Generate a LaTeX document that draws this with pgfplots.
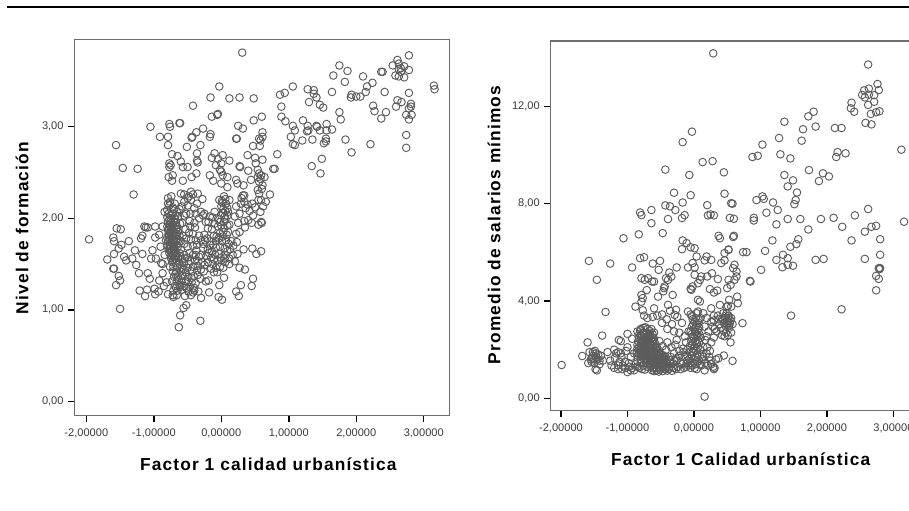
\documentclass[border=0pt]{standalone}
\usepackage{pgfplots}
\pgfplotsset{compat=1.18}
\usepackage{fontspec}
\setmainfont{Liberation Sans}
\newfontfamily\lblfont[LetterSpace=6.5]{Liberation Sans}
\definecolor{ptc}{HTML}{5C5C5C}
\definecolor{axc}{HTML}{6E6E6E}
\definecolor{tlc}{HTML}{3A3A3A}
\pgfplotsset{
  spss/.style={
    scale only axis,
    tick align=outside,
    xtick pos=bottom, ytick pos=left,
    major tick length=5.2pt,
    tick style={black,line width=1.1pt},
    axis line style={draw=axc,line width=1.1pt},
    xtick={-2,-1,0,1,2,3},
    xticklabels={{-2,00000},{-1,00000},{0,00000},{1,00000},{2,00000},{3,00000}},
    tick label style={font=\fontsize{8.3}{9}\selectfont,text=tlc},
    xticklabel style={yshift=-1.5pt},
    yticklabel style={xshift=0.5pt},
    xlabel style={font=\lblfont\bfseries\fontsize{13}{15}\selectfont,anchor=center},
    ylabel style={font=\lblfont\bfseries\fontsize{13}{15}\selectfont,anchor=center,rotate=0},
    clip=false,
  },
  pts/.style={only marks,mark=o,mark size=2.85pt,mark options={draw=ptc,line width=0.7pt}},
}
\begin{document}
\begin{tikzpicture}[x=1pt,y=1pt]
\path[use as bounding box] (0,0) rectangle (681.75,382.5);
\fill[white] (0,0) rectangle (681.75,382.5);
\draw[black,line width=1.6pt] (5.3,377) -- (681.75,377);
\begin{axis}[spss,at={(55.9pt,71pt)},anchor=south west,width=281.4pt,height=281.7pt,
  xmin=-2.175,xmax=3.385,ymin=-0.153,ymax=3.951,
  ytick={0,1,2,3},yticklabels={{0,00},{1,00},{2,00},{3,00}},
  xlabel={Factor 1 calidad urbanística},
  xlabel style={at={(axis description cs:0.5165,-0.129)}},
  ylabel={Nivel de formación},
  ylabel style={at={(axis description cs:-0.14,0.4987)}},
]
\addplot[pts] coordinates {
(0.31,3.81)(2.78,3.78)(2.61,3.73)(2.54,3.67)(2.63,3.69)(2.66,3.64)(2.71,3.66)(2.78,3.62)(2.63,3.63)(2.66,3.60)(2.58,3.56)(2.63,3.55)(2.71,3.54)
(1.75,3.67)(1.87,3.61)(1.66,3.56)(1.83,3.49)(2.10,3.55)(2.37,3.60)(2.39,3.60)(2.24,3.48)(2.16,3.44)(2.14,3.38)(2.42,3.38)(1.93,3.35)(1.92,3.32)(2.00,3.33)(2.06,3.33)(1.64,3.38)(2.78,3.37)(3.15,3.45)(3.16,3.41)
(1.06,3.44)(0.94,3.37)(0.87,3.35)(1.28,3.41)(1.37,3.40)(1.37,3.36)(1.41,3.32)(1.30,3.27)(1.46,3.24)(1.51,3.21)(0.89,3.22)(0.89,3.11)(0.95,3.06)(1.75,3.16)(1.77,3.08)(2.25,3.23)(2.27,3.17)(2.37,3.09)(2.44,3.16)
(2.59,3.22)(2.61,3.29)(2.67,3.27)(2.81,3.25)(2.81,3.22)(2.78,3.20)(2.74,3.13)(2.82,3.13)(2.78,3.08)(2.74,2.91)(2.74,2.77)(1.84,2.86)(1.93,2.72)(2.21,2.81)
(1.21,3.07)(1.28,3.01)(1.27,2.95)(1.20,2.85)(1.35,2.86)(1.41,3.01)(1.46,2.96)(1.56,3.03)(1.56,2.96)(1.64,2.97)(1.55,2.87)(1.52,2.82)(1.55,2.84)(1.29,2.96)(1.42,3.00)
(1.06,3.01)(1.09,2.96)(1.03,2.89)(1.06,2.81)(1.09,2.80)(1.34,2.57)(1.49,2.65)(1.47,2.49)(0.83,2.70)(0.77,2.54)(0.79,2.54)
(-0.03,3.44)(-0.16,3.32)(0.12,3.31)(0.27,3.32)(0.48,3.31)(-0.42,3.23)(-0.05,3.14)(-0.06,3.13)(-0.14,3.11)(0.60,3.11)(0.48,3.07)(0.25,3.01)(0.32,2.98)(-1.05,3.00)(-0.77,3.03)(-0.76,3.00)(-0.61,3.04)(-0.62,3.04)
(-0.91,2.89)(-0.79,2.89)(-0.79,2.80)(-0.44,2.88)(-0.43,2.89)(-0.37,2.94)(-0.27,2.98)(-0.16,2.92)(-0.17,2.89)(0.22,2.87)(0.23,2.87)(0.61,2.94)(0.61,2.89)(0.56,2.87)(0.58,2.85)(0.47,2.79)(0.57,2.79)
(-1.56,2.80)(-1.46,2.55)(-1.24,2.54)(-1.30,2.26)(-0.51,2.78)(-0.31,2.80)(-0.36,2.71)(-0.10,2.71)(-0.73,2.70)(-0.65,2.68)(-0.60,2.62)(-0.35,2.61)(-0.36,2.63)(-0.50,2.56)(-0.57,2.56)(-0.77,2.60)(-0.77,2.56)(-0.75,2.58)(-0.37,2.49)(-0.72,2.47)(-0.78,2.45)(-0.73,2.41)(-0.57,2.41)(-0.44,2.45)(-0.17,2.47)(-0.12,2.41)
(-0.14,2.66)(0.02,2.69)(-0.05,2.65)(-0.08,2.58)(0,2.60)(0.12,2.63)(0,2.51)(0.02,2.47)(-0.02,2.53)(0.09,2.45)(0,2.38)(0.09,2.34)(0.22,2.42)(0.24,2.38)(0.27,2.57)(0.28,2.56)(0.39,2.69)(0.50,2.66)(0.61,2.64)(0.51,2.60)(0.40,2.52)(0.44,2.42)
(0.54,2.53)(0.56,2.49)(0.54,2.45)(0.64,2.45)(0.59,2.47)(0.56,2.40)(0.61,2.36)(0.58,2.43)(0.54,2.31)(0.56,2.27)(0.60,2.32)(0.72,2.26)(0.66,2.18)(0.59,2.20)(0.33,2.36)(0.34,2.25)(0.29,2.16)(0.36,2.11)(0.27,2.05)(0.34,1.97)(0.47,2.03)(0.58,2.07)(0.45,1.95)(0.60,1.95)(0.55,1.93)(0.59,1.96)(0.39,2.15)(0.46,2.16)(0.32,2.25)(0.34,2.18)(0.30,2.22)
(-0.03,2.20)(0.04,2.24)(0.12,2.20)(0,2.13)(0.09,2.11)(0.02,2.06)(0.09,2.03)(0,2.03)(-0.05,1.99)(0.04,1.96)(0,1.92)(0.09,1.92)(-0.05,1.91)(0.06,1.99)(0.07,2.16)(0.02,2.17)(0.06,2.08)(0.04,1.89)(0.12,1.93)(0.10,1.85)(0.03,1.85)(-0.02,1.84)(-0.07,1.80)(0.07,1.76)(0.01,1.75)(0.11,1.72)
(-0.60,2.27)(-0.45,2.29)(-0.35,2.27)(-0.28,2.21)(-0.45,2.20)(-0.50,2.22)(-0.74,2.24)(-0.79,2.16)(-0.69,2.16)(-0.84,2.07)(-0.55,2.26)(-0.42,2.26)(-0.58,2.13)(-0.50,2.14)(-0.62,2.10)(-0.46,2.05)(-0.38,2.05)(-0.30,2.07)(-0.27,2.03)(-0.17,2.02)(-0.55,2.03)(-0.47,1.97)(-0.40,1.95)(-0.39,1.90)(-0.19,1.96)(-0.20,1.89)(-0.38,1.76)(-0.30,1.76)(-0.45,1.77)(-0.42,1.83)(-0.53,1.88)(-0.58,1.95)(-0.25,2.05)
(-0.79,2.22)(-0.76,2.18)(-0.72,2.12)(-0.80,2.09)(-0.78,2.05)(-0.72,2.05)(-0.66,2.07)(-0.80,2.01)(-0.75,2.00)(-0.69,1.99)(-0.64,2.02)(-0.79,1.97)(-0.74,1.95)(-0.67,1.95)(-0.61,1.94)(-0.80,1.91)(-0.76,1.91)(-0.71,1.90)(-0.65,1.90)(-0.79,1.87)(-0.75,1.86)(-0.70,1.85)(-0.64,1.85)(-0.78,1.83)(-0.74,1.82)(-0.69,1.81)(-0.62,1.81)(-0.80,1.79)(-0.76,1.78)(-0.71,1.77)(-0.66,1.77)(-0.79,1.74)(-0.74,1.73)(-0.69,1.73)(-0.63,1.73)(-0.80,1.70)(-0.75,1.69)(-0.70,1.69)(-0.65,1.68)(-0.78,1.66)(-0.73,1.65)(-0.68,1.64)(-0.60,1.66)(-0.77,1.62)(-0.72,1.61)(-0.67,1.60)(-0.55,1.60)(-0.75,1.57)(-0.70,1.56)(-0.64,1.57)(-0.58,1.55)(-0.50,1.57)(-0.73,1.52)(-0.68,1.51)(-0.62,1.50)(-0.55,1.51)(-0.46,1.53)(-0.76,1.47)(-0.71,1.47)(-0.65,1.46)(-0.58,1.46)(-0.50,1.46)
(-0.72,1.42)(-0.67,1.41)(-0.60,1.42)(-0.53,1.41)(-0.44,1.42)(-0.36,1.43)(-0.70,1.36)(-0.64,1.36)(-0.57,1.37)(-0.49,1.36)(-0.41,1.37)(-0.35,1.38)(-0.73,1.31)(-0.66,1.31)(-0.59,1.31)(-0.52,1.32)(-0.44,1.30)(-0.69,1.26)(-0.62,1.27)(-0.55,1.26)(-0.47,1.25)(-0.71,1.21)(-0.65,1.21)(-0.58,1.22)(-0.49,1.20)(-0.40,1.21)(-0.72,1.16)(-0.66,1.16)(-0.54,1.15)(-0.45,1.16)(-0.42,1.19)
(-0.52,1.05)(-0.56,1.02)(-0.61,0.94)(-0.63,0.81)(-0.31,0.88)(-0.18,1.19)(-0.30,1.13)(-0.34,1.20)(-0.23,1.31)(-0.19,1.32)(-0.03,1.27)(0.04,1.35)(-0.04,1.14)(0.01,1.11)(0.22,1.20)(0.26,1.15)(0.29,1.27)(0.45,1.26)(0.47,1.34)(0.27,1.46)(0.35,1.44)(0.24,1.61)(0.33,1.66)(0.46,1.67)(0.52,1.61)(0.59,1.64)(0.27,1.85)(0.22,1.83)(0.23,1.74)
(-0.25,1.82)(-0.21,1.78)(-0.16,1.75)(-0.12,1.71)(-0.27,1.67)(-0.20,1.66)(-0.14,1.64)(-0.08,1.68)(-0.02,1.69)(0.05,1.67)(0.13,1.66)(-0.30,1.60)(-0.22,1.59)(-0.15,1.57)(-0.09,1.60)(-0.03,1.61)(0.05,1.60)(0.12,1.56)(0.17,1.60)(-0.34,1.53)(-0.28,1.52)(-0.20,1.52)(-0.13,1.50)(-0.06,1.54)(0,1.54)(0.06,1.52)(-0.15,1.45)(-0.08,1.46)(-0.02,1.47)(0.03,1.46)(-0.11,1.41)(-0.06,1.41)(-0.42,1.60)(-0.37,1.65)(-0.42,1.70)(-0.47,1.62)
(-1.55,1.89)(-1.49,1.88)(-1.60,1.79)(-1.59,1.75)(-1.37,1.75)(-1.52,1.67)(-1.48,1.71)(-1.59,1.61)(-1.69,1.55)(-1.44,1.58)(-1.41,1.54)(-1.28,1.65)(-1.17,1.61)(-1.32,1.56)(-1.26,1.49)(-1.60,1.45)(-1.59,1.45)(-1.22,1.40)(-1.52,1.37)(-1.50,1.32)(-1.56,1.27)(-1.50,1.01)(-1.96,1.77)
(-1.14,1.91)(-1.09,1.90)(-0.98,1.91)(-0.87,1.91)(-1.12,1.90)(-1.19,1.78)(-1.17,1.81)(-0.98,1.79)(-0.92,1.82)(-1.02,1.65)(-1.04,1.56)(-0.97,1.56)(-0.90,1.69)(-0.89,1.51)(-0.87,1.50)(-0.87,1.40)(-1.09,1.40)(-1.06,1.34)(-0.92,1.32)(-0.85,1.26)(-1.21,1.21)(-1.13,1.15)(-1.10,1.22)(-0.99,1.23)(-0.98,1.17)(-0.93,1.20)(-0.79,1.17)(-0.71,1.14)(-0.84,1.60)(-0.82,1.76)(-0.81,1.30)
(-0.77,2.14)(-0.70,2.10)(-0.75,2.03)(-0.68,2.03)(-0.77,1.98)(-0.71,1.97)(-0.77,1.93)(-0.72,1.93)(-0.67,1.92)(-0.78,1.89)(-0.73,1.88)(-0.67,1.88)(-0.76,1.84)(-0.71,1.83)(-0.66,1.83)(-0.78,1.81)(-0.72,1.80)(-0.66,1.80)(-0.77,1.76)(-0.72,1.75)(-0.67,1.75)(-0.76,1.71)(-0.71,1.71)(-0.66,1.71)(-0.76,1.67)(-0.71,1.67)(-0.75,1.64)(-0.70,1.63)(-0.74,1.59)(-0.69,1.59)(-0.62,1.62)(-0.72,1.54)(-0.66,1.54)(-0.61,1.59)(-0.60,1.75)(-0.57,1.81)(-0.55,1.72)(-0.52,1.78)(-0.50,1.69)(-0.48,1.84)
(-0.56,1.44)(-0.54,1.56)(-0.48,1.50)(-0.42,1.47)(-0.39,1.54)(-0.38,1.60)(-0.33,1.58)(-0.35,1.48)(-0.30,1.44)(-0.31,1.34)(-0.26,1.42)(-0.25,1.49)(-0.52,1.24)(-0.50,1.30)(-0.44,1.35)(-0.38,1.29)(-0.40,1.24)(-0.63,1.33)(-0.68,1.39)(-0.61,1.25)(-0.67,1.24)(-0.36,1.71)(-0.33,1.81)(-0.27,1.72)(-0.24,1.76)(-0.11,1.81)(-0.14,1.88)(-0.10,1.94)(-0.16,1.71)(-0.04,1.78)(0.02,1.80)(0.08,1.82)(0.15,1.75)(0.18,1.70)(0.09,1.64)(0.20,1.53)(0.12,1.50)(0.05,1.56)(-0.01,1.57)(-0.11,1.55)(-0.18,1.62)(-0.08,1.75)(-0.02,1.96)(0.05,2.02)(0.03,2.10)(0.10,2.07)(0.01,2.19)(0.06,2.21)(0.20,2.02)(0.22,2.13)(0.42,2.08)(0.40,1.98)(0.50,2.12)(0.55,2.20)(0.62,2.13)(0.25,1.95)(0.35,1.90)(-0.46,1.91)(-0.52,2.05)(-0.48,2.24)(-0.55,2.18)(-0.36,2.16)(-0.40,2.11)(-0.33,2.00)(-0.23,1.96)(-0.13,2.01)(-0.10,2.07)
};
\end{axis}
\begin{axis}[spss,at={(413pt,74.8pt)},anchor=south west,width=277pt,height=277pt,
  xmin=-2.155,xmax=3.4,ymin=-0.49,ymax=14.69,
  ytick={0,4,8,12},yticklabels={{0,00},{4,00},{8,00},{12,00}},
  xlabel={Factor 1 Calidad urbanística},
  xlabel style={at={(axis description cs:0.5143,-0.1327)}},
  ylabel={Promedio de salarios mínimos},
  ylabel style={at={(axis description cs:-0.1535,0.5018)}},
  axis line style={draw=axc,line width=1.1pt},
]
\addplot[pts] coordinates {
(0.29,14.18)(2.62,13.72)(2.76,12.92)(2.63,12.73)(2.56,12.66)(2.78,12.67)(2.53,12.47)(2.57,12.37)(2.63,12.48)(2.71,12.46)(2.71,12.19)(2.62,12.06)(2.37,12.15)(2.36,11.92)(2.41,11.78)(2.66,11.69)(2.74,11.76)(2.79,11.80)(2.58,11.32)(2.67,11.26)
(1.80,11.78)(1.72,11.59)(1.64,11.06)(1.83,11.17)(1.36,11.37)(2.12,11.11)(2.22,11.11)(1.28,10.70)(1.62,10.59)(1.03,10.43)(0.88,9.92)(0.96,9.97)(1.30,10.03)(1.45,9.86)(2.16,10.12)(2.14,9.92)(2.28,10.07)(3.12,10.22)
(-0.03,10.96)(-0.17,10.53)(0.13,9.71)(0.28,9.75)(-0.43,9.40)(-0.07,9.18)(0.45,9.29)(1.73,9.38)(1.94,9.25)(2.03,9.12)(1.88,8.93)(1.36,9.18)(1.49,8.96)(1.41,8.71)(1.55,8.46)(1.53,8.15)(1.51,7.98)
(-0.30,8.45)(-0.05,8.35)(0.46,8.41)(-0.17,8.05)(-0.43,7.93)(-0.36,7.89)(-0.28,7.74)(-0.64,7.74)(-0.81,7.64)(-0.79,7.53)(-0.64,7.20)(-0.39,7.37)(-0.18,7.41)(-0.14,7.53)(0.20,7.94)(0.21,7.52)(0.25,7.56)(0.30,7.52)(0.56,8.02)(0.58,8.00)(0.54,7.42)(0.60,7.38)
(0.94,8.15)(1.03,8.30)(1.05,8.20)(1.19,8.05)(1.26,7.74)(1.09,7.63)(0.90,7.42)(0.90,7.31)(1.24,7.15)(1.41,7.37)(1.60,7.37)(1.91,7.37)(2.10,7.42)(2.23,7.05)(2.42,7.52)(2.62,7.78)(2.57,6.85)(2.67,7.05)(2.74,7.09)(3.16,7.26)(2.80,6.54)(2.37,6.49)(1.72,6.94)(1.57,6.54)(1.54,6.34)(1.45,6.23)(1.18,6.49)(1.07,6.06)
(-1.06,6.58)(-0.83,6.74)(-0.47,6.79)(0.37,6.68)(0.39,6.58)(0.60,6.68)(0.59,6.63)(-0.17,6.49)(-0.11,6.38)(-0.05,6.21)(0.01,6.17)(-0.18,6.13)(0.52,6.12)(0.46,5.97)(0.74,6.01)(0.79,6.01)
(2.80,5.90)(2.57,5.73)(2.78,5.35)(2.80,5.35)(2.79,5.31)(2.74,5.03)(2.78,4.91)(2.74,4.44)(2.22,3.66)(1.46,3.40)(1.01,5.28)(0.85,4.80)(1.24,5.69)(1.34,5.90)(1.41,5.76)(1.49,5.45)(1.41,5.49)(1.33,5.39)(1.83,5.69)(1.95,5.73)
(-1.58,5.65)(-1.26,5.54)(-1.46,4.87)(-0.93,5.38)(-0.81,5.76)(-0.75,5.80)(-0.62,5.54)(-0.51,5.65)(-0.53,5.28)(-0.26,5.38)(-0.37,5.17)(-0.42,4.94)(-0.34,5.00)(-0.39,4.87)(-1.33,3.55)(-1.38,2.58)(-1.60,2.30)(-1.99,1.37)(0.16,0.07)(-1.68,1.74)(0.73,3.09)(0.58,1.54)(0.45,1.76)(0.55,2.30)
(0.04,5.83)(0.19,5.83)(0.16,5.67)(0.26,5.69)(-0.09,5.38)(0.01,5.38)(-0.02,5.56)(0.01,5.08)(-0.05,4.50)(-0.02,4.60)(-0.04,4.46)(0.11,5.01)(0.06,4.73)(0.09,4.87)(0.20,5.01)(0.27,5.14)(0.36,4.90)(0.24,4.49)(0.35,4.43)(0.30,4.35)(0.41,5.56)(0.46,5.67)(0.52,6.10)(0.61,5.49)(0.59,5.35)(0.64,5.21)(0.64,5.01)(0.52,4.87)(0.50,4.53)(0.55,4.66)(0.61,4.87)(0.84,4.83)(0.65,4.18)(0.66,3.91)(0.56,3.77)(0.49,3.77)(0.53,4.05)
(-0.79,4.94)(-0.74,4.87)(-0.69,4.94)(-0.63,4.80)(-0.60,4.80)(-0.71,4.45)(-0.79,4.25)(-0.77,4.12)(-0.79,3.97)(-0.88,3.77)(-0.77,3.62)(-0.60,3.70)(-0.54,4.18)(-0.45,4.53)(-0.46,4.40)(-0.44,4.60)(-0.32,4.25)(-0.39,3.84)(-0.27,3.64)(-0.29,3.43)(-0.09,3.57)(0.06,4.05)(0.09,3.98)(0.06,3.57)(0.26,3.70)(0.39,3.84)(0.51,3.80)(0.44,3.23)
(-0.75,3.40)(-0.70,3.30)(-0.62,3.35)(-0.55,3.40)(-0.48,3.45)(-0.41,3.25)(-0.36,3.60)(-0.48,3.10)(-0.33,3.05)(-0.25,3.35)(-0.18,3.10)(-0.30,2.75)(-0.40,2.85)(-0.22,2.70)(-0.14,2.55)(-0.26,2.40)(-0.08,2.75)(-0.12,2.30)(-0.05,3.45)(-0.02,3.25)(0.04,3.50)(0.10,3.30)(0.01,3.15)(0.07,3.10)(-0.03,2.95)(0.03,2.95)(0.08,2.90)(-0.05,2.75)(0.02,2.75)(0.07,2.70)(-0.02,2.55)(0.05,2.55)(0.10,2.50)(-0.04,2.35)(0.02,2.35)(0.08,2.30)(-0.06,2.15)(0.01,2.15)(0.06,2.10)(-0.10,2.00)(-0.04,1.95)(0.03,1.95)(0.09,2.00)
(0.19,3.30)(0.26,3.15)(0.30,3.40)(0.37,3.25)(0.44,3.50)(0.49,3.50)(0.52,3.40)(0.56,3.30)(0.50,3.20)(0.54,3.10)(0.58,3.05)(0.48,2.95)(0.53,2.90)(0.44,2.80)(0.38,3.05)(0.31,2.85)(0.22,2.75)(0.30,2.50)(0.26,2.30)(0.19,2.55)(0.16,2.95)(0.14,3.50)(0.46,2.55)(0.42,2.60)(0.56,2.70)
(-0.85,2.75)(-0.80,2.85)(-0.76,2.90)(-0.70,2.85)(-0.64,2.85)(-0.82,2.65)(-0.76,2.70)(-0.71,2.70)(-0.66,2.65)(-0.60,2.70)(-0.83,2.50)(-0.78,2.55)(-0.73,2.50)(-0.68,2.50)(-0.62,2.50)(-0.84,2.35)(-0.78,2.40)(-0.73,2.35)(-0.68,2.35)(-0.62,2.35)(-0.85,2.20)(-0.79,2.25)(-0.74,2.20)(-0.69,2.20)(-0.64,2.20)(-0.58,2.25)(-0.85,2.05)(-0.80,2.10)(-0.75,2.05)(-0.70,2.05)(-0.64,2.05)(-0.59,2.10)(-0.86,1.90)(-0.80,1.95)(-0.75,1.90)(-0.70,1.90)(-0.65,1.90)(-0.60,1.95)(-0.55,1.95)(-0.85,1.75)(-0.80,1.80)(-0.75,1.75)(-0.70,1.75)(-0.65,1.75)(-0.60,1.80)(-0.55,1.80)(-0.50,1.80)(-0.80,1.60)(-0.75,1.60)(-0.70,1.60)(-0.65,1.60)(-0.60,1.65)(-0.55,1.65)(-0.50,1.65)(-0.45,1.65)(-0.72,1.45)(-0.67,1.45)(-0.62,1.50)(-0.57,1.50)(-0.52,1.50)(-0.47,1.50)(-0.42,1.50)(-0.65,1.30)(-0.60,1.30)(-0.55,1.35)(-0.50,1.35)(-0.45,1.35)(-0.40,1.35)(-0.63,1.15)(-0.56,1.15)(-0.50,1.20)(-0.44,1.20)(-0.38,1.20)
(-0.35,1.70)(-0.30,1.85)(-0.26,1.55)(-0.22,1.95)(-0.18,1.40)(-0.14,1.70)(-0.32,1.30)(-0.27,1.20)(-0.20,1.20)(-0.12,1.30)(-0.10,1.55)(-0.34,2.10)(-0.28,2.20)(-0.16,2.05)(-0.42,2.00)(-0.40,2.30)(-0.52,2.35)(-0.47,2.15)(-0.08,1.35)(-0.03,1.75)(0.01,1.60)(-0.05,1.45)(0.05,1.80)(0.02,1.40)(0.08,1.55)(0.04,1.20)(0.16,1.15)(-0.05,1.25)(0.11,1.35)(0.14,1.70)(0.19,1.85)(0.23,1.70)(0.26,1.40)(0.21,1.35)(0.31,1.25)(0.25,1.55)(0.30,1.20)(0.33,1.60)(0.29,1.30)(0.37,1.65)
(-1.59,1.45)(-1.55,1.60)(-1.52,1.75)(-1.50,1.45)(-1.47,1.85)(-1.45,1.60)(-1.42,1.40)(-1.40,1.75)(-1.48,1.20)(-1.46,1.15)(-1.53,1.65)(-1.57,1.90)(-1.49,1.95)(-1.37,1.55)(-1.30,1.90)(-1.26,1.55)(-1.20,2.00)(-1.14,1.90)(-1.24,1.35)(-1.19,1.65)(-1.12,1.50)(-1.20,1.25)(-1.14,1.20)(-1.09,1.70)(-1.07,1.35)(-1.02,1.95)(-1.00,2.10)(-0.95,1.70)(-0.98,1.45)(-0.93,1.25)(-1.00,1.08)(-0.95,1.15)(-1.03,1.25)(-0.88,1.40)(-0.90,1.85)(-1.00,2.65)(-0.93,2.45)(-1.13,2.40)(-1.10,2.35)(-1.17,1.85)(-1.10,1.85)
(-0.81,2.80)(-0.73,2.92)(-0.67,2.78)(-0.80,2.60)(-0.74,2.62)(-0.68,2.60)(-0.62,2.62)(-0.80,2.42)(-0.75,2.45)(-0.70,2.43)(-0.65,2.42)(-0.60,2.45)(-0.80,2.30)(-0.76,2.28)(-0.71,2.28)(-0.66,2.28)(-0.61,2.30)(-0.82,2.12)(-0.77,2.14)(-0.72,2.12)(-0.67,2.12)(-0.62,2.14)(-0.56,2.12)(-0.83,1.97)(-0.78,1.98)(-0.73,1.98)(-0.68,1.97)(-0.63,1.98)(-0.57,2.00)(-0.52,1.95)(-0.82,1.83)(-0.77,1.82)(-0.72,1.83)(-0.67,1.82)(-0.62,1.85)(-0.57,1.85)(-0.52,1.85)(-0.47,1.78)(-0.78,1.68)(-0.73,1.68)(-0.68,1.67)(-0.63,1.68)(-0.58,1.72)(-0.53,1.72)(-0.48,1.72)(-0.43,1.72)(-0.72,1.52)(-0.66,1.53)(-0.61,1.57)(-0.56,1.57)(-0.51,1.57)(-0.46,1.57)(-0.41,1.57)(-0.36,1.57)(-0.65,1.40)(-0.60,1.42)(-0.55,1.42)(-0.50,1.42)(-0.45,1.43)(-0.40,1.43)(-0.35,1.43)(-0.62,1.24)(-0.57,1.25)(-0.52,1.26)(-0.47,1.27)(-0.42,1.27)(-0.37,1.28)(-0.30,1.25)(-0.60,1.12)(-0.53,1.10)(-0.47,1.12)(-0.40,1.14)(-0.33,1.13)
(-0.32,1.45)(-0.27,1.65)(-0.24,1.30)(-0.20,1.50)(-0.15,1.25)(-0.11,1.45)(-0.30,1.55)(-0.22,1.75)(-0.16,1.90)(-0.10,1.75)(-0.07,1.62)(-0.03,1.35)(-0.02,1.90)(0.03,1.70)(0.05,1.48)(0,2.05)(-0.03,2.22)(0.04,2.25)(0.06,2.40)(0,2.45)(-0.03,2.65)(0.04,2.62)(0.01,2.85)(0.06,2.82)(-0.01,3.05)(0.05,3.02)(0.03,3.28)(-0.03,3.38)(0.07,3.22)(0.01,1.25)(0.09,1.40)(0.12,1.60)(0.17,1.45)(0.12,1.80)(0.14,2.10)(0.17,2.40)(0.20,2.10)(0.24,1.95)
(0.47,3.30)(0.52,3.30)(0.48,3.40)(0.51,3.10)(0.55,3.20)(0.49,3.05)(0.45,3.10)(0.53,3.00)(0.42,3.25)(0.36,3.40)(0.30,3.20)(0.34,2.75)(0.28,2.95)(0.40,2.90)(0.48,2.70)(0.51,2.60)(-1.54,1.50)(-1.50,1.60)(-1.47,1.70)(-1.42,1.55)(-1.44,1.80)(-1.52,1.90)(-1.14,1.35)(-1.08,1.20)(-1.04,1.50)(-0.97,1.30)(-0.90,1.15)(-0.85,1.30)(-0.82,1.25)(-0.78,1.20)(-0.74,1.18)(-0.70,1.30)(-0.85,1.52)(-0.80,1.45)(-0.76,1.35)
};
\end{axis}
\end{tikzpicture}
\end{document}
